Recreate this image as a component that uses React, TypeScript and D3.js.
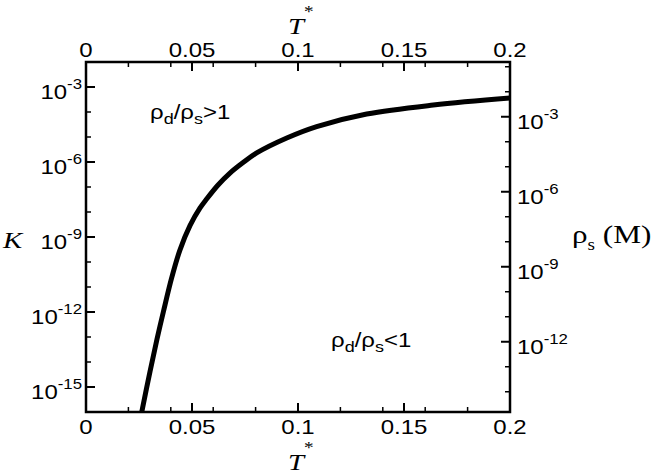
import React from "react";
import * as d3 from "d3";

// Data (T* vs K)
const tValues = [0.0263, 0.0302, 0.0335, 0.0365, 0.0404, 0.0443, 0.0491, 0.0538, 0.0569, 0.0623, 0.0679, 0.0741, 0.0805, 0.0947, 0.1088, 0.1324, 0.1638, 0.2];
const kValues = [1.0e-16, 4.2e-15, 8.3e-14, 1.02e-12, 2.3e-11, 3.0e-10, 2.9e-9, 1.45e-8, 3.3e-8, 1.2e-7, 3.6e-7, 9.5e-7, 2.3e-6, 9.1e-6, 2.6e-5, 8.3e-5, 1.9e-4, 3.6e-4];

const xTickValues = [0, 0.05, 0.1, 0.15, 0.2];
const xTickLabels = ["0", "0.05", "0.1", "0.15", "0.2"];
const kMajorExp = [-3, -6, -9, -12, -15];
const kMinorExp = [-2, -4, -5, -7, -8, -10, -11, -13, -14, -16];
const rhoMajorExp = [-3, -6, -9, -12];
const rhoMinorExp = [-1, -2, -4, -5, -7, -8, -10, -11, -13, -14];

const W = 654, H = 475;
const L = 86, R = 510, TOP = 62, BOT = 412;
const SX = 1.2;
const SANS = "'Liberation Sans', Arial, Helvetica, sans-serif";
const SERIF = "'Liberation Serif', 'Times New Roman', serif";

const x = d3.scaleLinear().domain([0, 0.2]).range([L, R]);
const yK = d3.scaleLog().domain([1e-16, 1e-2]).range([BOT, TOP]);
const yRho = d3.scaleLog().domain([Math.pow(10, -14.81), Math.pow(10, -0.81)]).range([BOT, TOP]);

function Txt(props: any) {
  const { x: tx, y: ty, anchor, children, ...rest } = props;
  return (
    <text transform={`translate(${tx},${ty}) scale(${SX},1)`} textAnchor={anchor || "start"} {...rest}>
      {children}
    </text>
  );
}

export default function App() {
  const pts: [number, number][] = tValues.map((t, i) => [t, kValues[i]]);
  const line = d3
    .line<[number, number]>()
    .x((d) => x(d[0]))
    .y((d) => yK(d[1]))
    .curve(d3.curveCatmullRom.alpha(0.5));
  const minorX = x.ticks(8).filter((v) => !xTickValues.some((m) => Math.abs(m - v) < 1e-9));
  const major = 9, minor = 5;

  return (
    <svg width={W} height={H} style={{ position: "absolute", left: 0, top: 0, background: "#fff" }}>
      <defs>
        <clipPath id="plot">
          <rect x={L} y={TOP} width={R - L} height={BOT - TOP} />
        </clipPath>
      </defs>
      <rect x={0} y={0} width={W} height={H} fill="#fff" />

      {/* curve */}
      <path d={line(pts) || ""} fill="none" stroke="#000" strokeWidth={5} strokeLinejoin="round" clipPath="url(#plot)" />

      {/* x ticks bottom & top */}
      {xTickValues.map((v) => (
        <g key={"xm" + v}>
          <line x1={x(v)} x2={x(v)} y1={BOT} y2={BOT - major} stroke="#000" strokeWidth={2} />
          <line x1={x(v)} x2={x(v)} y1={TOP} y2={TOP + major} stroke="#000" strokeWidth={2} />
        </g>
      ))}
      {minorX.map((v) => (
        <g key={"xn" + v}>
          <line x1={x(v)} x2={x(v)} y1={BOT} y2={BOT - minor} stroke="#000" strokeWidth={1.5} />
          <line x1={x(v)} x2={x(v)} y1={TOP} y2={TOP + minor} stroke="#000" strokeWidth={1.5} />
        </g>
      ))}
      {xTickValues.map((v, i) => (
        <g key={"xl" + v} fontFamily={SANS} fontSize={20}>
          <Txt x={x(v)} y={434} anchor="middle">{xTickLabels[i]}</Txt>
          <Txt x={x(v)} y={57} anchor="middle">{xTickLabels[i]}</Txt>
        </g>
      ))}

      {/* left K axis */}
      {kMajorExp.map((e) => (
        <g key={"km" + e}>
          <line x1={L} x2={L + major} y1={yK(Math.pow(10, e))} y2={yK(Math.pow(10, e))} stroke="#000" strokeWidth={2} />
          <Txt x={82} y={yK(Math.pow(10, e)) + 12} anchor="end" fontFamily={SANS} fontSize={20}>
            10<tspan dy={-10} fontSize={14}>{String(e)}</tspan>
          </Txt>
        </g>
      ))}
      {kMinorExp.map((e) => (
        <line key={"kn" + e} x1={L} x2={L + minor} y1={yK(Math.pow(10, e))} y2={yK(Math.pow(10, e))} stroke="#000" strokeWidth={1.5} />
      ))}

      {/* right rho axis */}
      {rhoMajorExp.map((e) => (
        <g key={"rm" + e}>
          <line x1={R} x2={R - major} y1={yRho(Math.pow(10, e))} y2={yRho(Math.pow(10, e))} stroke="#000" strokeWidth={2} />
          <Txt x={517} y={yRho(Math.pow(10, e)) + 12} anchor="start" fontFamily={SANS} fontSize={20}>
            10<tspan dy={-10} fontSize={14}>{String(e)}</tspan>
          </Txt>
        </g>
      ))}
      {rhoMinorExp.map((e) => (
        <line key={"rn" + e} x1={R} x2={R - minor} y1={yRho(Math.pow(10, e))} y2={yRho(Math.pow(10, e))} stroke="#000" strokeWidth={1.5} />
      ))}

      {/* frame */}
      <rect x={L} y={TOP} width={R - L} height={BOT - TOP} fill="none" stroke="#000" strokeWidth={2.5} />

      {/* annotations */}
      <Txt x={150} y={119} fontFamily={SANS} fontSize={20}>
        ρ<tspan dy={5} fontSize={15}>d</tspan><tspan dy={-5}>/ρ</tspan><tspan dy={5} fontSize={15}>s</tspan><tspan dy={-5}>&gt;1</tspan>
      </Txt>
      <Txt x={331} y={347} fontFamily={SANS} fontSize={20}>
        ρ<tspan dy={5} fontSize={15}>d</tspan><tspan dy={-5}>/ρ</tspan><tspan dy={5} fontSize={15}>s</tspan><tspan dy={-5}>&lt;1</tspan>
      </Txt>

      {/* axis titles */}
      <Txt x={288} y={34} fontFamily={SERIF} fontStyle="italic" fontSize={24}>
        T<tspan dy={-17} fontSize={16} fontStyle="normal">*</tspan>
      </Txt>
      <Txt x={288} y={470} fontFamily={SERIF} fontStyle="italic" fontSize={24}>
        T<tspan dy={-17} fontSize={16} fontStyle="normal">*</tspan>
      </Txt>
      <Txt x={3} y={248} fontFamily={SERIF} fontStyle="italic" fontSize={24}>K</Txt>
      <Txt x={572} y={243} fontFamily={SERIF} fontSize={26}>
        ρ<tspan dy={7} fontSize={16}>s</tspan><tspan dy={-7}> (M)</tspan>
      </Txt>
    </svg>
  );
}
